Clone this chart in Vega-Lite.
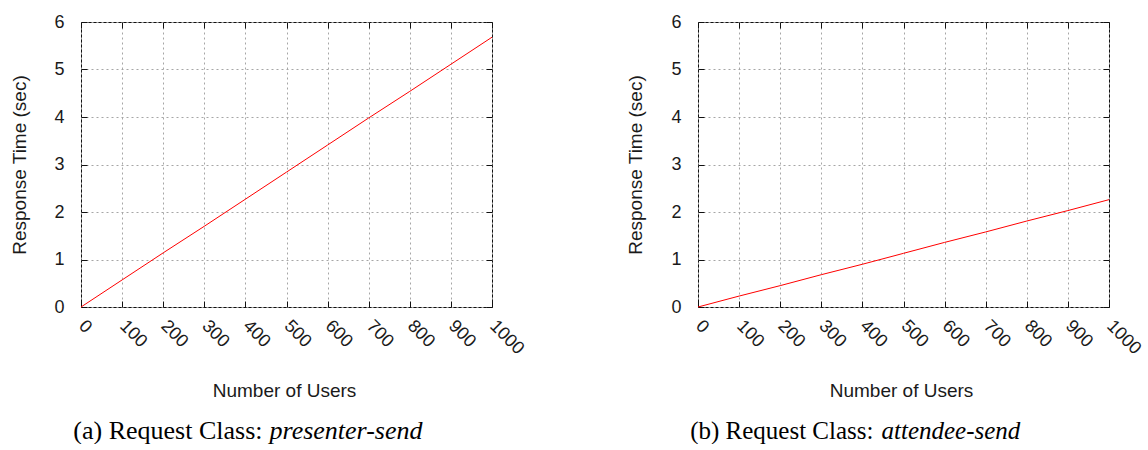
{
  "$schema": "https://vega.github.io/schema/vega-lite/v6.json",
  "background": "white",
  "padding": {"left": 9, "top": 12, "right": 0, "bottom": 0},
  "config": {
    "view": {"stroke": "#111111", "strokeWidth": 1},
    "axis": {
      "labelFont": "Liberation Sans", "titleFont": "Liberation Sans",
      "labelFontSize": 18, "titleFontSize": 19, "titleFontWeight": "normal",
      "labelColor": "#1a1a1a", "titleColor": "#1a1a1a",
      "domain": false, "tickColor": "#111111", "tickWidth": 1,
      "gridColor": "#a6a6a6", "gridDash": [2, 3], "gridOpacity": 1, "gridWidth": 1
    }
  },
  "bounds": "flush",
  "spacing": 206,
  "hconcat": [
    {
      "width": 411, "height": 285,
      "data": {"values": [
        {"users": 0, "time": 0}, {"users": 100, "time": 0.57}, {"users": 200, "time": 1.14},
        {"users": 300, "time": 1.70}, {"users": 400, "time": 2.27}, {"users": 500, "time": 2.84},
        {"users": 600, "time": 3.41}, {"users": 700, "time": 3.98}, {"users": 800, "time": 4.54},
        {"users": 900, "time": 5.11}, {"users": 1000, "time": 5.68}
      ]},
      "layer": [
        {
          "mark": {"type": "line", "color": "#ff0000", "strokeWidth": 1},
          "encoding": {
            "x": {"field": "users", "type": "quantitative", "scale": {"domain": [0, 1000], "nice": false},
              "axis": {"orient": "bottom", "values": [0,100,200,300,400,500,600,700,800,900,1000], "format": "d",
                "labelAngle": 45, "labelAlign": "left", "labelBaseline": "middle", "labelPadding": 22,
                "tickSize": -6, "grid": true, "title": "Number of Users",
                "titleX": 203, "titleY": 83, "titleAlign": "center", "titleBaseline": "middle", "titleAngle": 0}},
            "y": {"field": "time", "type": "quantitative", "scale": {"domain": [0, 6], "nice": false},
              "axis": {"orient": "left", "values": [0,1,2,3,4,5,6], "tickSize": -6, "labelPadding": 23,
                "grid": true, "title": "Response Time (sec)",
                "titleX": -62, "titleY": 142.5, "titleAngle": -90, "titleAlign": "center", "titleBaseline": "middle"}}
          }
        },
        {
          "mark": {"type": "line", "strokeOpacity": 0},
          "encoding": {
            "x": {"field": "users", "type": "quantitative", "scale": {"domain": [0, 1000], "nice": false},
              "axis": {"orient": "top", "values": [0,100,200,300,400,500,600,700,800,900,1000],
                "labels": false, "tickSize": -6, "grid": false,
                "title": "(a)  Request Class:", "titleX": 181, "titleY": 416, "titleAngle": 0,
                "titleAlign": "right", "titleBaseline": "alphabetic",
                "titleFont": "Liberation Serif", "titleFontSize": 26, "titleColor": "#000000"}},
            "y": {"field": "time", "type": "quantitative", "scale": {"domain": [0, 6], "nice": false},
              "axis": {"orient": "right", "values": [0,1,2,3,4,5,6], "labels": false, "tickSize": -6, "grid": false,
                "title": "presenter-send", "titleX": -223, "titleY": 416, "titleAngle": 0,
                "titleAlign": "left", "titleBaseline": "alphabetic",
                "titleFont": "Liberation Serif", "titleFontStyle": "italic", "titleFontSize": 26, "titleColor": "#000000"}}
          }
        }
      ],
      "resolve": {"axis": {"x": "independent", "y": "independent"}}
    },
    {
      "width": 411, "height": 285,
      "data": {"values": [
        {"users": 0, "time": 0}, {"users": 100, "time": 0.23}, {"users": 200, "time": 0.45},
        {"users": 300, "time": 0.68}, {"users": 400, "time": 0.90}, {"users": 500, "time": 1.13},
        {"users": 600, "time": 1.36}, {"users": 700, "time": 1.58}, {"users": 800, "time": 1.81},
        {"users": 900, "time": 2.03}, {"users": 1000, "time": 2.26}
      ]},
      "layer": [
        {
          "mark": {"type": "line", "color": "#ff0000", "strokeWidth": 1},
          "encoding": {
            "x": {"field": "users", "type": "quantitative", "scale": {"domain": [0, 1000], "nice": false},
              "axis": {"orient": "bottom", "values": [0,100,200,300,400,500,600,700,800,900,1000], "format": "d",
                "labelAngle": 45, "labelAlign": "left", "labelBaseline": "middle", "labelPadding": 22,
                "tickSize": -6, "grid": true, "title": "Number of Users",
                "titleX": 203, "titleY": 83, "titleAlign": "center", "titleBaseline": "middle", "titleAngle": 0}},
            "y": {"field": "time", "type": "quantitative", "scale": {"domain": [0, 6], "nice": false},
              "axis": {"orient": "left", "values": [0,1,2,3,4,5,6], "tickSize": -6, "labelPadding": 23,
                "grid": true, "title": "Response Time (sec)",
                "titleX": -63, "titleY": 142.5, "titleAngle": -90, "titleAlign": "center", "titleBaseline": "middle"}}
          }
        },
        {
          "mark": {"type": "line", "strokeOpacity": 0},
          "encoding": {
            "x": {"field": "users", "type": "quantitative", "scale": {"domain": [0, 1000], "nice": false},
              "axis": {"orient": "top", "values": [0,100,200,300,400,500,600,700,800,900,1000],
                "labels": false, "tickSize": -6, "grid": false,
                "title": "(b)  Request Class:", "titleX": 175, "titleY": 416, "titleAngle": 0,
                "titleAlign": "right", "titleBaseline": "alphabetic",
                "titleFont": "Liberation Serif", "titleFontSize": 25, "titleColor": "#000000"}},
            "y": {"field": "time", "type": "quantitative", "scale": {"domain": [0, 6], "nice": false},
              "axis": {"orient": "right", "values": [0,1,2,3,4,5,6], "labels": false, "tickSize": -6, "grid": false,
                "title": "attendee-send", "titleX": -228, "titleY": 416, "titleAngle": 0,
                "titleAlign": "left", "titleBaseline": "alphabetic",
                "titleFont": "Liberation Serif", "titleFontStyle": "italic", "titleFontSize": 25, "titleColor": "#000000"}}
          }
        }
      ],
      "resolve": {"axis": {"x": "independent", "y": "independent"}}
    }
  ]
}
